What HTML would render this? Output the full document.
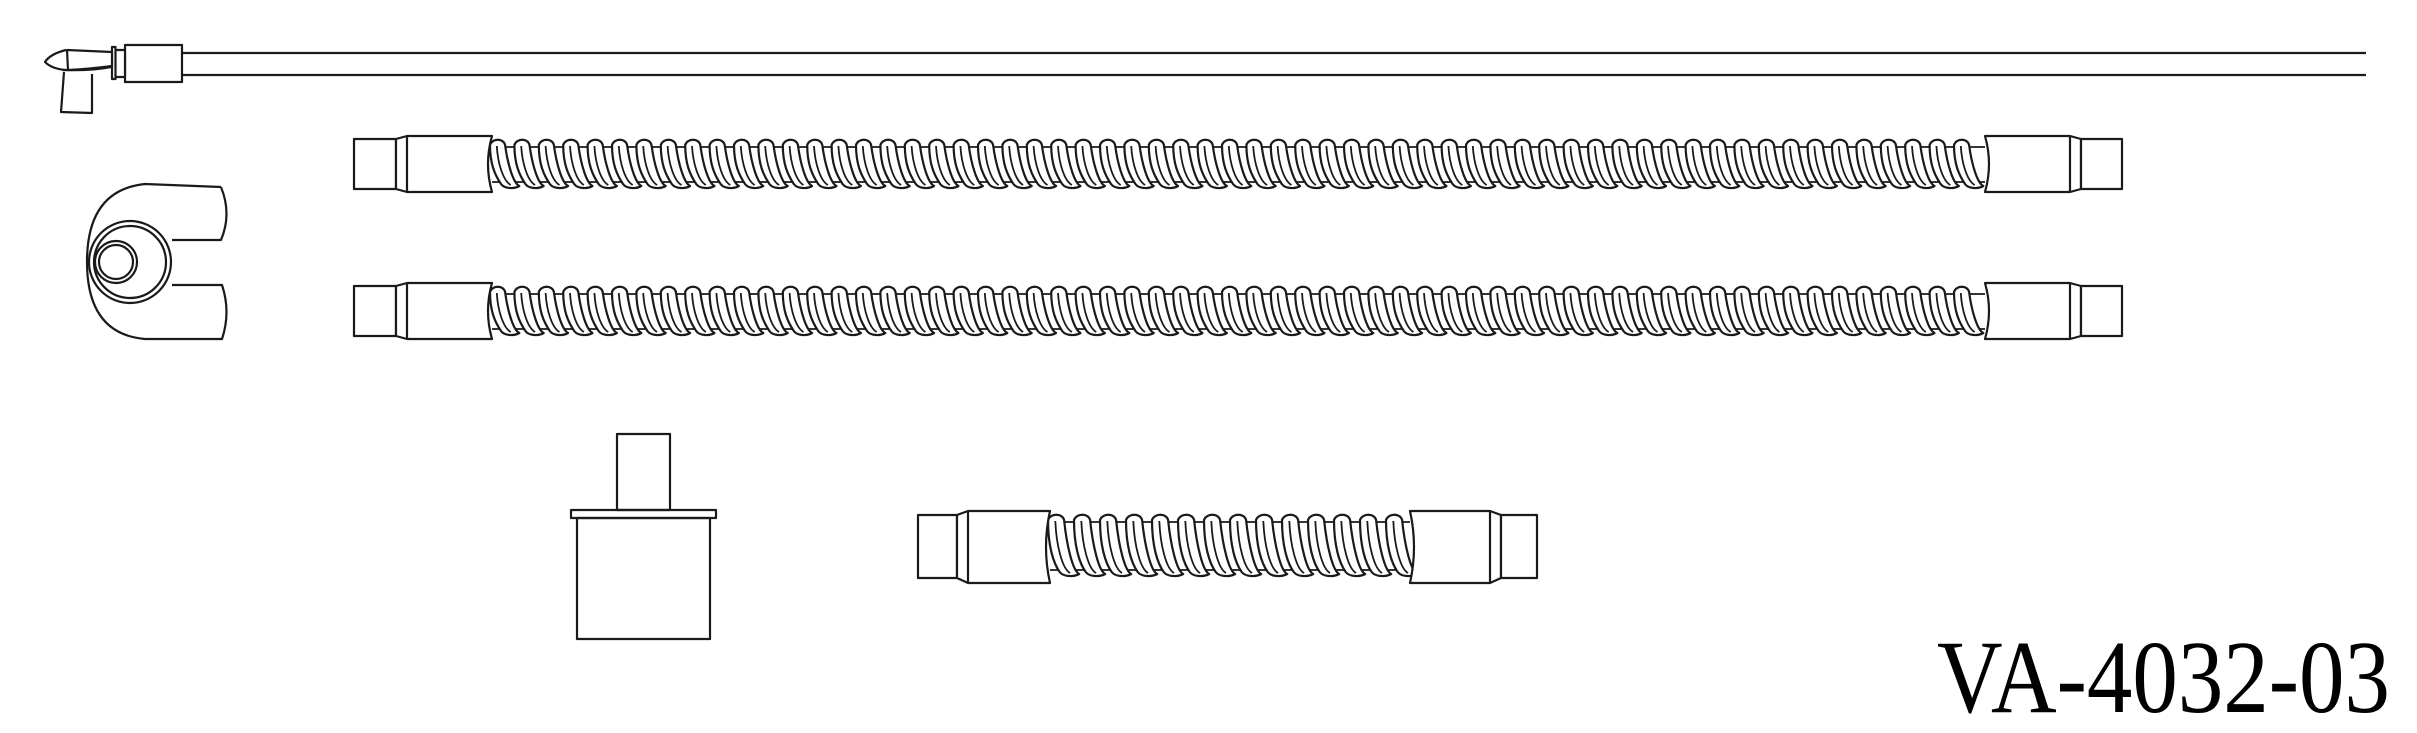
<!DOCTYPE html>
<html><head><meta charset="utf-8">
<style>
html,body{margin:0;padding:0;background:#fff;}
svg{display:block;}
</style></head>
<body>
<svg id="s" width="2417" height="733" viewBox="0 0 2417 733" xmlns="http://www.w3.org/2000/svg">
<g fill="none" stroke="#1a1a1a" stroke-width="2.2" stroke-linejoin="round">
  <!-- top cable -->
  <line x1="182" y1="53" x2="2366" y2="53"/>
  <line x1="182" y1="75" x2="2366" y2="75"/>
  <rect x="125" y="45" width="57" height="37" fill="#fff"/>
  <rect x="115" y="50" width="10" height="27" fill="#fff"/>
  <rect x="112" y="47" width="3.5" height="32" fill="#fff"/>
  <path d="M67,50 L112,52 L112,66 Q90,69 68,70 Z" fill="#fff"/>
  <path d="M66,50 Q50,54 45,62 Q52,69 66,70"/>
  <path d="M63,70 Q90,71 111,67"/>
  <path d="M64,72 L61,112 L92,113 L92,74"/>
  <!-- clip -->
  <path d="M221,187 L145,184 Q87,190 87,262 Q87,334 145,339 L222,339 Q231,312 222,285 L172,285 M172,240 L221,240 Q232,214 221,187"/>
  <circle cx="130" cy="262" r="41"/>
  <circle cx="130" cy="262" r="36"/>
  <circle cx="116" cy="262" r="21"/>
  <circle cx="116" cy="262" r="17"/>
  <!-- adapter -->
  <rect x="617" y="434" width="53" height="76"/>
  <rect x="571" y="510" width="145" height="8"/>
  <rect x="577" y="518" width="133" height="121"/>
  <g id="tubes"></g>
  <text x="1937" y="712" font-family="'Liberation Serif',serif" font-size="104" fill="#000" stroke="none" textLength="453" lengthAdjust="spacingAndGlyphs">VA-4032-03</text>
</g>
</svg>
<script>
var g=document.getElementById('tubes');var h='';
function f(v){return v.toFixed(1);}
function tube(y0,sl,sr,bl,br,c0,c1,T,B,p,small){
  var bt=y0, bb=y0+56, st=y0+3, sb=y0+53;
  if(small){bt=y0;bb=y0+72;st=y0+4;sb=y0+67;}
  var iT=T+6,iB=B-5,mid=(T+B)/2;
  h+='<path d="M'+c0+','+iT+' L'+c1+','+iT+' M'+c0+','+iB+' L'+c1+','+iB+'" stroke-width="1.8"/>';
  for(var x=c0-2;x<c1-p*0.9;x+=p){
    h+='<path fill="#fff" d="M'+f(x)+','+(T+4)+' C'+f(x+p*0.1)+','+(T-3)+' '+f(x+p*0.55)+','+(T-3)+' '+f(x+p*0.62)+','+(T+4)+
      ' C'+f(x+p*0.72)+','+f(mid)+' '+f(x+p*0.95)+','+(B-4)+' '+f(x+p*1.2)+','+(B-1)+
      ' C'+f(x+p*1.0)+','+(B+2)+' '+f(x+p*0.6)+','+(B+2)+' '+f(x+p*0.45)+','+(B-3)+
      ' C'+f(x+p*0.2)+','+(B-12)+' '+f(x)+','+f(mid)+' '+f(x)+','+(T+4)+' Z"/>';
    h+='<path stroke-width="1.8" d="M'+f(x+p*0.28)+','+(T+5)+' C'+f(x+p*0.32)+','+f(mid)+' '+f(x+p*0.55)+','+(B-6)+' '+f(x+p*0.85)+','+(B-2)+'"/>';
  }
  h+='<rect fill="#fff" x="'+sl+'" y="'+st+'" width="'+(bl-sl-11)+'" height="'+(sb-st)+'"/>';
  h+='<path fill="#fff" d="M'+(bl-11)+','+st+' L'+bl+','+bt+' L'+c0+','+bt+' Q'+(c0-8)+','+((bt+bb)/2)+' '+c0+','+bb+' L'+bl+','+bb+' L'+(bl-11)+','+sb+' Z M'+bl+','+bt+' L'+bl+','+bb+'"/>';
  h+='<path fill="#fff" d="M'+c1+','+bt+' L'+br+','+bt+' L'+(br+11)+','+st+' L'+(br+11)+','+sb+' L'+br+','+bb+' L'+c1+','+bb+' Q'+(c1+8)+','+((bt+bb)/2)+' '+c1+','+bt+' Z M'+br+','+bt+' L'+br+','+bb+'"/>';
  h+='<rect fill="#fff" x="'+(br+11)+'" y="'+st+'" width="'+(sr-br-11)+'" height="'+(sb-st)+'"/>';
}
tube(136,354,2122,407,2070,492,1985,141,187,24.4,false);
tube(283,354,2122,407,2070,492,1985,288,334,24.4,false);
tube(511,918,1537,968,1490,1050,1410,516,575,26,true);
g.innerHTML=h;
</script>
</body></html>
